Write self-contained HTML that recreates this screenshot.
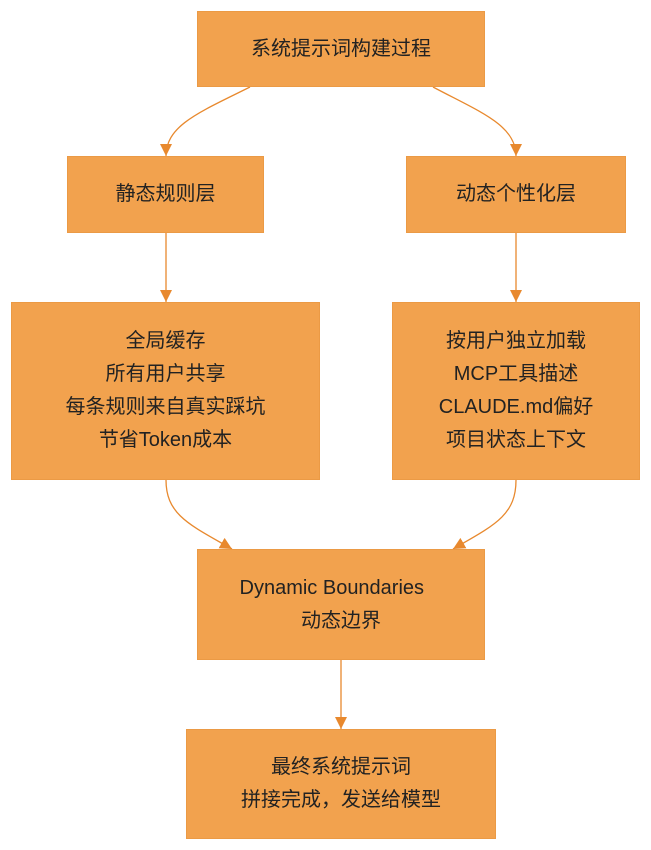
<!DOCTYPE html>
<html><head><meta charset="utf-8"><style>
html,body{margin:0;padding:0;background:#fff;}
body{width:651px;height:850px;position:relative;overflow:hidden;font-family:"Liberation Sans","Noto Sans CJK SC",sans-serif;color:#222;}
.b{position:absolute;background:#f2a24e;border:1.5px solid #eb9a45;box-sizing:border-box;display:flex;flex-direction:column;align-items:center;justify-content:center;font-size:20px;line-height:33px;text-align:center;}
svg{position:absolute;left:0;top:0;}
</style></head><body>
<svg width="651" height="850">
<defs><marker id="a" markerWidth="12" markerHeight="12" refX="6" refY="10" orient="auto" markerUnits="userSpaceOnUse"><path d="M0,0 L12,0 L6,10 Z" fill="#e8892e" transform="rotate(0)"/></marker>
<marker id="m" viewBox="0 0 10 10" refX="10" refY="5" markerWidth="12" markerHeight="12" orient="auto-start-reverse" markerUnits="userSpaceOnUse"><path d="M0,0 L10,5 L0,10 Z" fill="#e8892e"/></marker></defs>
<g fill="none" stroke="#e8892e" stroke-width="1.3" marker-end="url(#m)">
<path d="M250,87 C200,112 166,125 166,156"/>
<path d="M433,87 C480,112 516,125 516,156"/>
<path d="M166,233 L166,302"/>
<path d="M516,233 L516,302"/>
<path d="M166,480 C166,515 190,525 232,549"/>
<path d="M516,480 C516,515 495,525 453,549"/>
<path d="M341,660 L341,729"/>
</g>
</svg>
<div class="b" style="left:197px;top:11px;width:288px;height:76px;">系统提示词构建过程</div>
<div class="b" style="left:67px;top:156px;width:197px;height:77px;">静态规则层</div>
<div class="b" style="left:406px;top:156px;width:220px;height:77px;">动态个性化层</div>
<div class="b" style="left:11px;top:302px;width:309px;height:178px;"><div>全局缓存</div><div>所有用户共享</div><div>每条规则来自真实踩坑</div><div>节省Token成本</div></div>
<div class="b" style="left:392px;top:302px;width:248px;height:178px;"><div>按用户独立加载</div><div>MCP工具描述</div><div>CLAUDE.md偏好</div><div>项目状态上下文</div></div>
<div class="b" style="left:197px;top:549px;width:288px;height:111px;"><div style="width:203px;overflow:hidden;white-space:nowrap;text-align:left;">Dynamic Boundaries</div><div>动态边界</div></div>
<div class="b" style="left:186px;top:729px;width:310px;height:110px;"><div>最终系统提示词</div><div>拼接完成，发送给模型</div></div>
</body></html>
